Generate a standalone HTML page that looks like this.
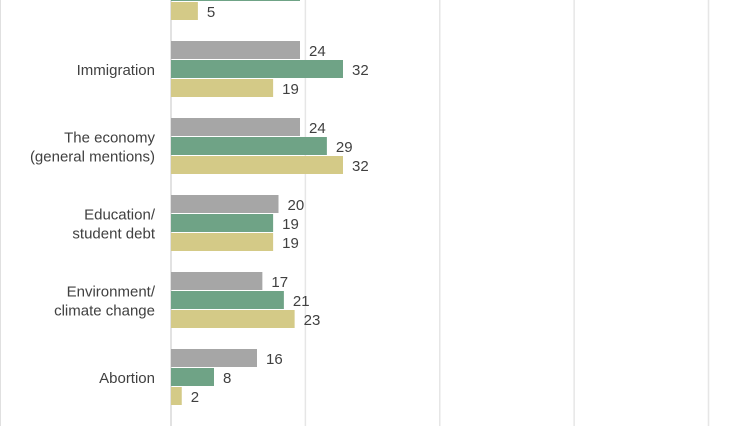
<!DOCTYPE html>
<html><head><meta charset="utf-8"><style>
html,body{margin:0;padding:0;background:#fff;}
svg{display:block;font-family:"Liberation Sans",sans-serif;}
</style></head><body>
<svg id="chart" width="747" height="426">
<line x1="0.5" y1="0" x2="0.5" y2="426" stroke="#e0e0e0"/>
<g id="grid"></g><g id="bars"></g><g id="labels"></g>
</svg>
<script>
const categories = [["(previous)"], ["Immigration"], ["The economy","(general mentions)"], ["Education/","student debt"], ["Environment/","climate change"], ["Abortion"], ["(next)"]];
const seriesA = [null, 24, 24, 20, 17, 16, 4];
const seriesB = [24, 32, 29, 19, 21, 8, null];
const seriesC = [5, 19, 32, 19, 23, 2, null];
const gridTicks = [0, 25, 50, 75, 100];
const colors = ["#a6a6a6", "#6fa386", "#d4ca87"];
const x0 = 171, pxPerUnit = 5.375;
const groupTop0 = -36, groupPitch = 77, barH = 18, barGap = 1;
const xs = v => x0 + v * pxPerUnit;
const NS = "http://www.w3.org/2000/svg";
const grid = document.getElementById("grid"), bars = document.getElementById("bars"), labels = document.getElementById("labels");
gridTicks.forEach(t => {
  const l = document.createElementNS(NS, "line");
  
  
  l.setAttribute("x1", xs(t)); l.setAttribute("x2", xs(t));
  l.setAttribute("y1", 0); l.setAttribute("y2", 426);
  l.setAttribute("stroke", t === 0 ? "#d9d9d9" : "#e6e6e6");
  l.setAttribute("stroke-width", 1.5);
  grid.appendChild(l);
});
const series = [seriesA, seriesB, seriesC];
categories.forEach((cat, i) => {
  const gTop = groupTop0 + i * groupPitch;
  series.forEach((s, k) => {
    const v = s[i];
    if (v === null) return;
    const y = gTop + k * (barH + barGap);
    const r = document.createElementNS(NS, "rect");
    
    
    r.setAttribute("x", x0); r.setAttribute("y", y);
    r.setAttribute("width", v * pxPerUnit); r.setAttribute("height", barH);
    r.setAttribute("fill", colors[k]);
    bars.appendChild(r);
    const t = document.createElementNS(NS, "text");
    
    
    t.setAttribute("x", xs(v) + 9); t.setAttribute("y", y + 15);
    t.setAttribute("font-size", "15"); t.setAttribute("fill", "#404040");
    t.textContent = v;
    labels.appendChild(t);
  });
  if (i === 0 || i === categories.length - 1) return;
  const cy = gTop + 1.5 * barH + barGap + 6;
  cat.forEach((line, j) => {
    const t = document.createElementNS(NS, "text");
    
    
    t.setAttribute("x", 155); t.setAttribute("text-anchor", "end");
    t.setAttribute("y", cy + (j - (cat.length - 1) / 2) * 19);
    t.setAttribute("font-size", "15"); t.setAttribute("fill", "#404040");
    t.textContent = line;
    labels.appendChild(t);
  });
});
</script>
</body></html>
